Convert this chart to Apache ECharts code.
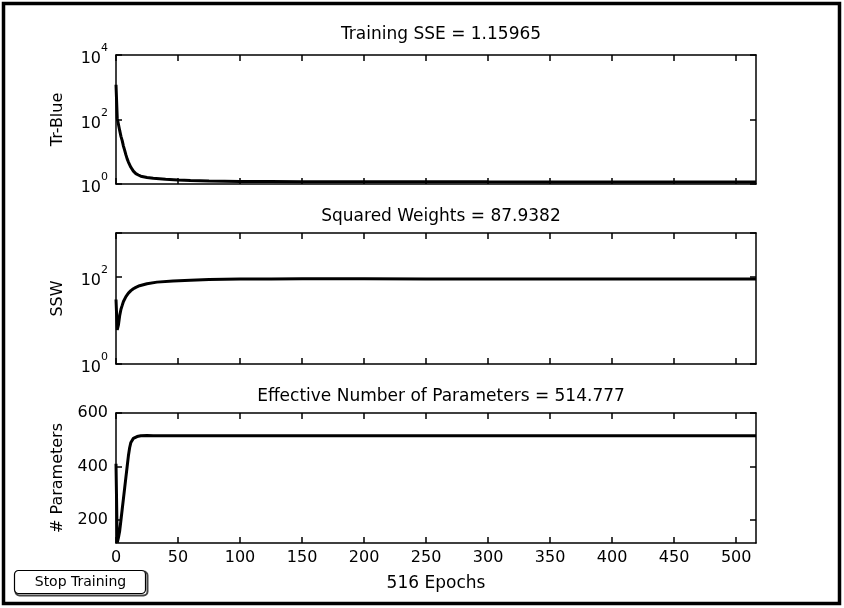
<!DOCTYPE html>
<html>
<head>
<meta charset="utf-8">
<script src="https://cdn.jsdelivr.net/npm/echarts@6/dist/echarts.min.js"></script>
<style>
  html, body { margin: 0; padding: 0; background: #fff; }
  #chart { width: 844px; height: 608px; }
</style>
</head>
<body>
<div id="chart"></div>
<script>
// Training performance (log scale)
const sseEpochs = [0, 1, 2, 3, 4, 5, 6, 7, 8, 9, 10, 12, 14, 16, 18, 20, 25, 30, 40, 50, 60, 75, 100, 125, 150, 200, 250, 300, 350, 400, 450, 500, 516];
const sseValues = [1200, 110, 70, 45, 30, 22, 15, 11, 8, 6, 4.8, 3.3, 2.5, 2.1, 1.9, 1.75, 1.6, 1.5, 1.4, 1.33, 1.28, 1.24, 1.2, 1.19, 1.18, 1.17, 1.17, 1.165, 1.163, 1.162, 1.161, 1.16, 1.15965];

// Sum of squared weights (log scale)
const sswEpochs = [0, 1, 2, 3, 4, 5, 6, 8, 10, 12, 14, 16, 19, 25, 33, 46, 60, 75, 100, 125, 150, 200, 250, 300, 350, 400, 450, 500, 516];
const sswValues = [30, 6, 8, 13, 18, 22, 27, 35, 42, 48, 53, 57, 62, 69, 75, 80, 83, 86, 88, 89, 89.5, 89.5, 89, 89, 88.8, 88.5, 88.2, 88, 87.9382];

// Effective number of parameters
const parEpochs = [0, 1, 2, 3, 4, 5, 6, 7, 8, 9, 10, 11, 12, 14, 17, 20, 25, 30, 50, 100, 200, 300, 400, 516];
const parValues = [410, 115, 135, 160, 200, 240, 280, 320, 360, 400, 440, 470, 490, 505, 512, 515, 516, 515, 515, 515, 515, 515, 515, 514.777];

const panelTitles = ['Training SSE = 1.15965', 'Squared Weights = 87.9382', 'Effective Number of Parameters = 514.777'];
const panelNames = ['Tr-Blue', 'SSW', '# Parameters'];
const epochTicks = [0, 50, 100, 150, 200, 250, 300, 350, 400, 450, 500];
const paramTicks = [200, 400, 600];
const epochLabel = '516 Epochs';
const buttonLabel = 'Stop Training';

const FONT = 'DejaVu Sans';
const zip = (xs, ys) => xs.map((x, i) => [x, ys[i]]);

const grids = [
  { left: 116, top: 55, width: 640, height: 129 },
  { left: 116, top: 233, width: 640, height: 131 },
  { left: 116, top: 413, width: 640, height: 130 }
];

const makeLine = () => ({ show: true, onZero: false, lineStyle: { color: '#000', width: 1.5 } });
const makeTick = (custom) => {
  const t = { show: true, inside: true, length: 6, lineStyle: { color: '#000', width: 1.5 } };
  if (custom) t.customValues = custom;
  return t;
};

function powLabel(v) {
  const e = Math.log10(v);
  const r = Math.round(e);
  if (Math.abs(e - r) > 1e-6 || r % 2 !== 0) return '';
  return '{b|10}{s|' + r + '}';
}
const powRich = {
  b: { fontFamily: FONT, fontSize: 16, color: '#000', verticalAlign: 'bottom', lineHeight: 24 },
  s: { fontFamily: FONT, fontSize: 11, color: '#000', verticalAlign: 'top', lineHeight: 12 }
};

const xAxes = [];
const yAxes = [];
grids.forEach((g, i) => {
  const isLast = i === 2;
  const bottom = {
    gridIndex: i, type: 'value', position: 'bottom', min: 0, max: 516,
    axisLine: makeLine(),
    axisTick: makeTick(epochTicks),
    axisLabel: {
      show: isLast, customValues: epochTicks, margin: 7,
      fontFamily: FONT, fontSize: 16, color: '#000'
    },
    splitLine: { show: false }
  };
  if (isLast) {
    bottom.name = epochLabel;
    bottom.nameLocation = 'middle';
    bottom.nameGap = 32;
    bottom.nameTextStyle = { fontFamily: FONT, fontSize: 17, color: '#000' };
  }
  xAxes.push(bottom);
  xAxes.push({
    gridIndex: i, type: 'value', position: 'top', min: 0, max: 516,
    axisLine: makeLine(),
    axisTick: makeTick(epochTicks),
    axisLabel: { show: false, customValues: epochTicks },
    splitLine: { show: false }
  });
});

function yPair(i, base) {
  const left = Object.assign({ gridIndex: i, splitLine: { show: false }, axisLine: makeLine() }, base.left, {
    position: 'left', name: panelNames[i], nameLocation: 'middle', nameGap: 50,
    nameTextStyle: { fontFamily: FONT, fontSize: 16, color: '#000' }
  });
  const right = Object.assign({ gridIndex: i, splitLine: { show: false }, axisLine: makeLine() }, base.right, { position: 'right' });
  yAxes.push(left, right);
}

const logLeft = (max) => ({
  type: 'log', logBase: 100, min: 1, max: max,
  axisTick: makeTick(),
  axisLabel: { margin: 8, formatter: powLabel, rich: powRich }
});
const logRight = (max) => ({
  type: 'log', logBase: 100, min: 1, max: max,
  axisTick: makeTick(), axisLabel: { show: false }
});
yPair(0, { left: logLeft(10000), right: logRight(10000) });
yPair(1, { left: logLeft(1000), right: logRight(1000) });
yPair(2, {
  left: {
    type: 'value', min: 114, max: 600,
    axisTick: makeTick(paramTicks),
    axisLabel: { customValues: paramTicks, margin: 8, fontFamily: FONT, fontSize: 16, color: '#000' }
  },
  right: {
    type: 'value', min: 114, max: 600,
    axisTick: makeTick(paramTicks),
    axisLabel: { show: false, customValues: paramTicks }
  }
});

const seriesData = [zip(sseEpochs, sseValues), zip(sswEpochs, sswValues), zip(parEpochs, parValues)];
const series = seriesData.map((d, i) => ({
  type: 'line', xAxisIndex: 2 * i, yAxisIndex: 2 * i, data: d,
  showSymbol: false, symbol: 'none', smooth: false,
  lineStyle: { color: '#000', width: 3 }, clip: true
}));

const titleTops = [21, 203, 383];
const titles = panelTitles.map((t, i) => ({
  text: t, left: 436, top: titleTops[i], textAlign: 'center',
  textStyle: { fontFamily: FONT, fontSize: 17, fontWeight: 'normal', color: '#000' }
}));

const chart = echarts.init(document.getElementById('chart'), null, { renderer: 'canvas' });
chart.setOption({
  animation: false,
  backgroundColor: '#fff',
  title: titles,
  grid: grids,
  xAxis: xAxes,
  yAxis: yAxes,
  series: series,
  graphic: [
    {
      type: 'rect', shape: { x: 3.5, y: 3.5, width: 836, height: 600 },
      style: { fill: 'none', stroke: '#000', lineWidth: 3.5 }, silent: true
    },
    {
      type: 'group', left: 13, top: 569,
      children: [
        { type: 'rect', shape: { x: 1, y: 1, width: 132, height: 24, r: 4 }, style: { fill: 'none', stroke: '#444', lineWidth: 2 } },
        { type: 'rect', shape: { x: 0, y: 0, width: 131, height: 23, r: 4 }, style: { fill: '#fff', stroke: '#000', lineWidth: 1.2 } },
        {
          type: 'text', x: 66, y: 12,
          style: { text: buttonLabel, fontFamily: FONT, fontSize: 14, fill: '#000', align: 'center', verticalAlign: 'middle' }
        }
      ]
    }
  ]
});
</script>
</body>
</html>
